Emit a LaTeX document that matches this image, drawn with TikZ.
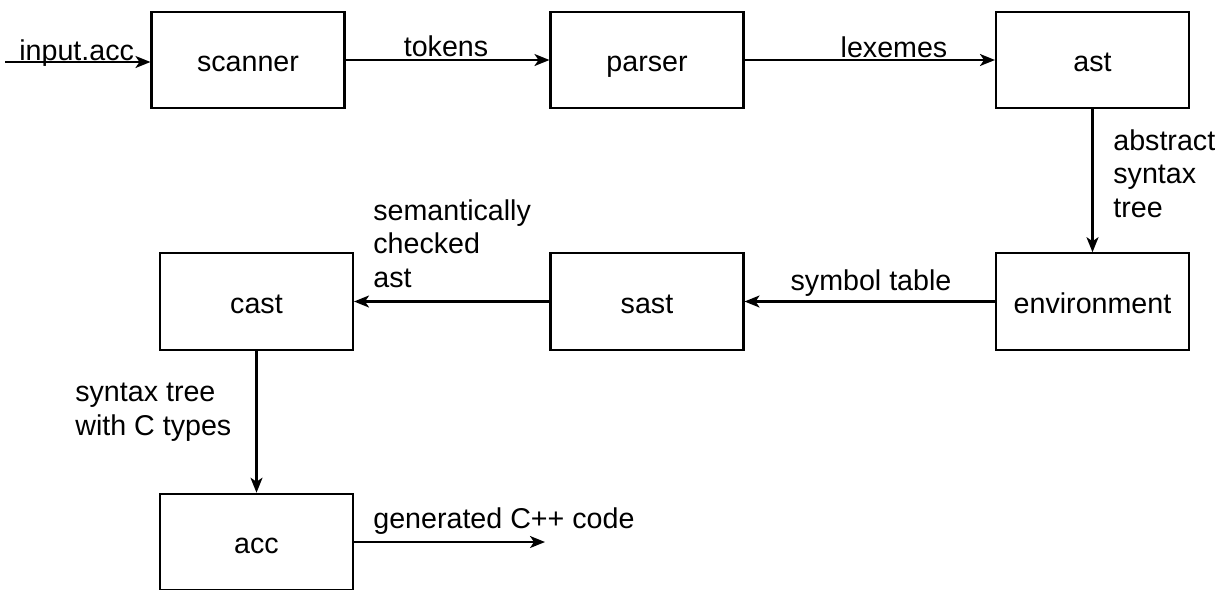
\documentclass[tikz,border=0pt]{standalone}
\usepackage{fontspec}
\setmainfont{Liberation Sans}
\usetikzlibrary{arrows.meta}

\begin{document}
\begin{tikzpicture}[x=0.02cm,y=-0.02cm,
	font=\fontsize{16.3pt}{18.8pt}\selectfont,
	stage/.style={draw,line width=1.2pt,minimum width=3.86cm,minimum height=1.93cm,inner sep=0pt,text height=13.6pt,text depth=0pt},
	flow/.style={line width=1.2pt,-{Stealth[length=0.3cm,width=0.24cm,inset=0.08cm]}},
	lbl/.style={inner sep=0pt,align=left}]

	\useasboundingbox (0,0) rectangle (1226,589);

	% compiler stages
	\node[stage] (scanner) at (248,60) {scanner};
	\node[stage] (parser) at (647,60) {parser};
	\node[stage] (ast) at (1092.5,60) {ast};
	\node[stage] (env) at (1092.5,301.5) {environment};
	\node[stage] (sast) at (647,301.5) {sast};
	\node[stage] (cast) at (256.5,301.5) {cast};
	\node[stage] (acc) at (256.5,542) {acc};

	% data passed between them
	\coordinate (src) at (5,62);
	\coordinate (out) at (545,542);
	\draw[flow] (src) -- (src -| scanner.west);
	\draw[flow] (scanner) -- (parser);
	\draw[flow] (parser) -- (ast);
	\draw[flow] (ast) -- (env);
	\draw[flow] (env) -- (sast);
	\draw[flow] (sast) -- (cast);
	\draw[flow] (cast) -- (acc);
	\draw[flow] (acc) -- (out);

	% multi-line labels sit on the baseline of their last line
	\node[lbl,anchor=base west] (l-in) at (19,60) {input.acc};
	\node[lbl,anchor=base] (l-tok) at (446,56) {tokens};
	\node[lbl,anchor=base] (l-lex) at (894,57) {lexemes};
	\node[lbl,anchor=base west] (l-ast) at (1113,217) {abstract\\syntax\\tree};
	\node[lbl,anchor=base] (l-sym) at (871,290) {symbol table};
	\node[lbl,anchor=base west] (l-sem) at (373,287) {semantically\\checked\\ast};
	\node[lbl,anchor=base west] (l-cty) at (75,435) {syntax tree\\with C types};
	\node[lbl,anchor=base west] (l-gen) at (373,528) {generated C++ code};

\end{tikzpicture}
\end{document}
